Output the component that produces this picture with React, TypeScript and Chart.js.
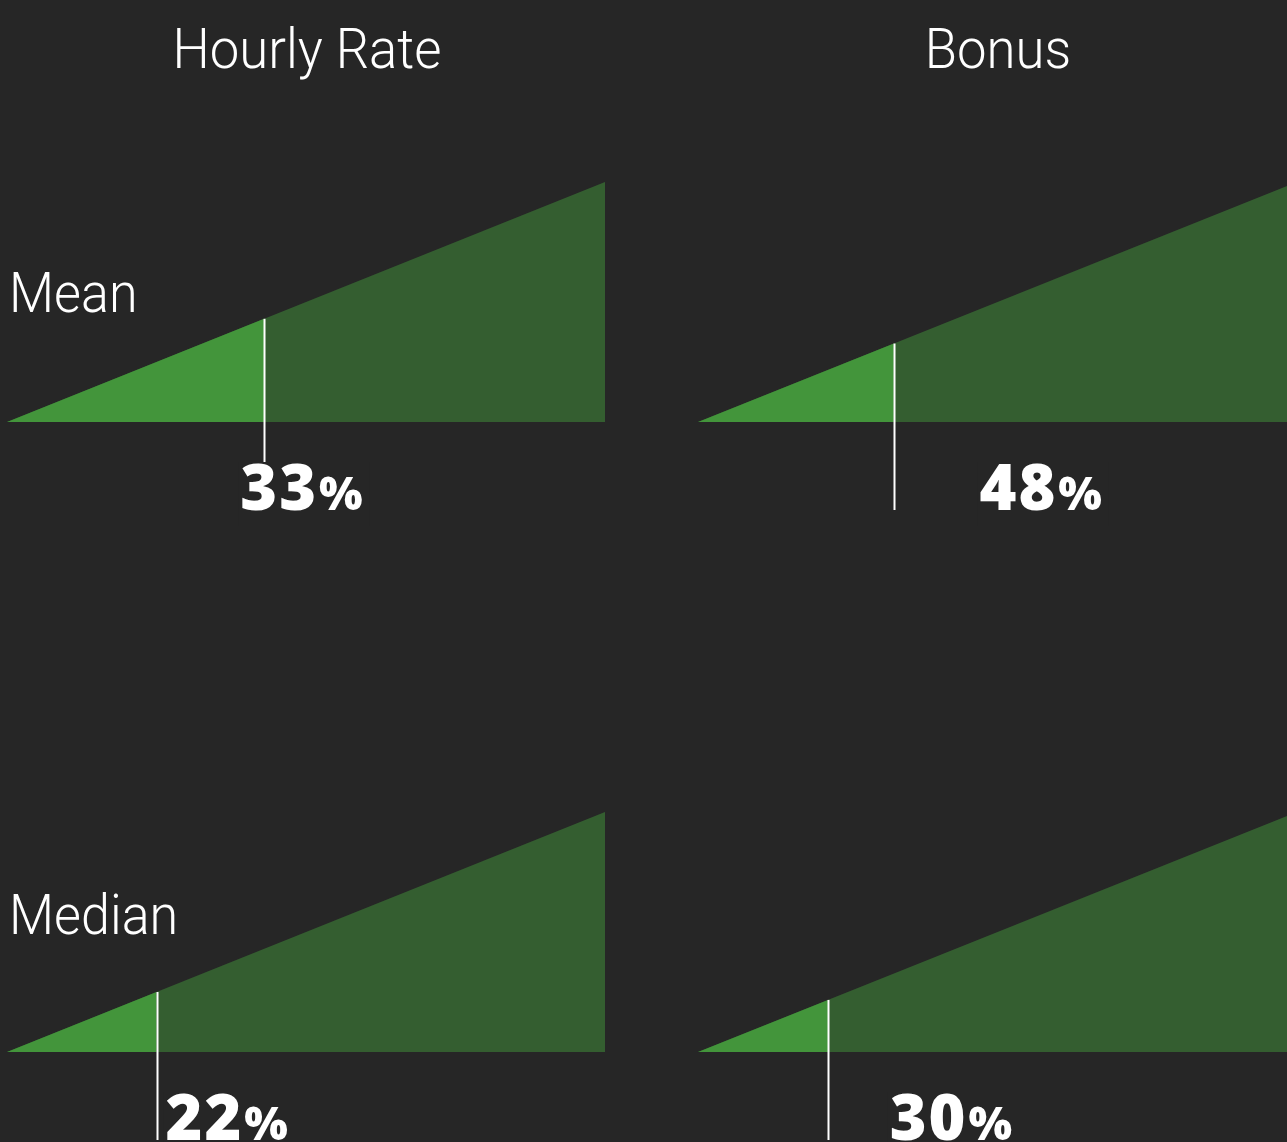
import React, { useEffect, useRef } from "react";
import { Chart, registerables } from "chart.js";

Chart.register(...registerables);

// ---- data ----
const columnTitles = ["Hourly Rate", "Bonus"];
const rowTitles = ["Mean", "Median"];
const meanValues = [33, 48]; // % gap shown
const medianValues = [22, 30];
const meanMarkers = [43, 32.7]; // marker position along the wedge (0-100)
const medianMarkers = [25, 21.7];
const meanLabelPos = [39, 47]; // label start along the wedge (0-100)
const medianLabelPos = [26.5, 32];

const BG = "#262626";
const DARK_GREEN = "#345E30";
const BRIGHT_GREEN = "#43953B";

const markerPlugin = {
  id: "gapMarker",
  afterDatasetsDraw(chart: any, _args: any, opts: any) {
    const { ctx, chartArea, scales } = chart;
    const x = scales.x;
    const y = scales.y;
    const px = Math.round(x.getPixelForValue(opts.marker)) + 0.5;
    const top = y.getPixelForValue(opts.marker);
    const bottom = chartArea.bottom + opts.tail;
    ctx.save();
    ctx.strokeStyle = "#ffffff";
    ctx.lineWidth = 2;
    ctx.beginPath();
    ctx.moveTo(px, top);
    ctx.lineTo(px, bottom);
    ctx.stroke();

    const lx = x.getPixelForValue(opts.labelPos);
    const by = chartArea.bottom + opts.tail;
    const numText = String(opts.value);
    const bigFont = "800 63px 'Open Sans', Lato, sans-serif";
    const smallFont = "800 46px 'Open Sans', Lato, sans-serif";
    try {
      (ctx as any).letterSpacing = "2px";
    } catch (e) {}
    ctx.font = bigFont;
    const nw = ctx.measureText(numText).width;
    ctx.font = smallFont;
    const pw = ctx.measureText("%").width;
    ctx.fillStyle = BG;
    ctx.fillRect(lx - 2, by - 48, nw + pw + 8, 64);
    ctx.fillStyle = "#ffffff";
    ctx.textBaseline = "alphabetic";
    ctx.textAlign = "left";
    ctx.font = bigFont;
    ctx.fillText(numText, lx, by);
    ctx.font = smallFont;
    ctx.fillText("%", lx + nw + 1, by);
    ctx.restore();
  },
};

type PanelProps = {
  col: number;
  row: number;
  value: number;
  marker: number;
  labelPos: number;
};

const CANVAS_W = 660;
const CANVAS_H = 442;

function Panel({ col, row, value, marker, labelPos }: PanelProps) {
  const ref = useRef<HTMLCanvasElement | null>(null);
  useEffect(() => {
    if (!ref.current) return;
    const chart = new Chart(ref.current, {
      type: "line",
      data: {
        datasets: [
          {
            label: "gap",
            data: [
              { x: 0, y: 0 },
              { x: marker, y: marker },
            ],
            backgroundColor: BRIGHT_GREEN,
            borderWidth: 0,
            pointRadius: 0,
            fill: "origin",
          },
          {
            label: "total",
            data: [
              { x: 0, y: 0 },
              { x: 100, y: 100 },
            ],
            backgroundColor: DARK_GREEN,
            borderWidth: 0,
            pointRadius: 0,
            fill: "origin",
          },
        ],
      },
      options: {
        animation: false,
        responsive: false,
        devicePixelRatio: 1,
        layout: {
          padding: { left: col === 0 ? 7 : 6, right: 55, top: 82, bottom: 120 },
        },
        scales: {
          x: { type: "linear", min: 0, max: 100, display: false },
          y: { type: "linear", min: 0, max: 100, display: false },
        },
        plugins: {
          legend: { display: false },
          tooltip: { enabled: false },
          gapMarker: { marker, value, labelPos, tail: 88 },
        } as any,
        events: [],
      },
      plugins: [markerPlugin],
    });
    return () => chart.destroy();
  }, [col, row, value, marker, labelPos]);

  return (
    <canvas
      ref={ref}
      width={CANVAS_W}
      height={CANVAS_H}
      style={{
        position: "absolute",
        left: col === 0 ? 0 : 692,
        top: row === 0 ? 100 : 730,
        width: CANVAS_W,
        height: CANVAS_H,
      }}
    />
  );
}

const textFont = "Roboto, 'Open Sans', sans-serif";

export default function App() {
  useEffect(() => {
    document.body.style.margin = "0";
    document.body.style.background = BG;
  }, []);
  const colCenters = [307, 998];
  return (
    <div
      style={{
        position: "fixed",
        left: 0,
        top: 0,
        width: 1287,
        height: 1142,
        background: BG,
        overflow: "hidden",
        fontFamily: textFont,
        color: "#ffffff",
      }}
    >
      {columnTitles.map((t, i) => (
        <div
          key={t}
          style={{
            position: "absolute",
            left: colCenters[i] - 300,
            width: 600,
            top: 21,
            textAlign: "center",
            fontSize: 56,
            lineHeight: "56px",
            fontWeight: 300,
            transform: "scaleX(0.94)",
            transformOrigin: "center",
            whiteSpace: "nowrap",
          }}
        >
          {t}
        </div>
      ))}
      {rowTitles.map((t, i) => (
        <div
          key={t}
          style={{
            position: "absolute",
            left: 9,
            top: i === 0 ? 265 : 887,
            fontSize: 56,
            lineHeight: "56px",
            fontWeight: 300,
            transform: "scaleX(0.93)",
            transformOrigin: "left",
            whiteSpace: "nowrap",
          }}
        >
          {t}
        </div>
      ))}
      {meanValues.map((v, i) => (
        <Panel key={"m" + i} col={i} row={0} value={v} marker={meanMarkers[i]} labelPos={meanLabelPos[i]} />
      ))}
      {medianValues.map((v, i) => (
        <Panel key={"d" + i} col={i} row={1} value={v} marker={medianMarkers[i]} labelPos={medianLabelPos[i]} />
      ))}
    </div>
  );
}
